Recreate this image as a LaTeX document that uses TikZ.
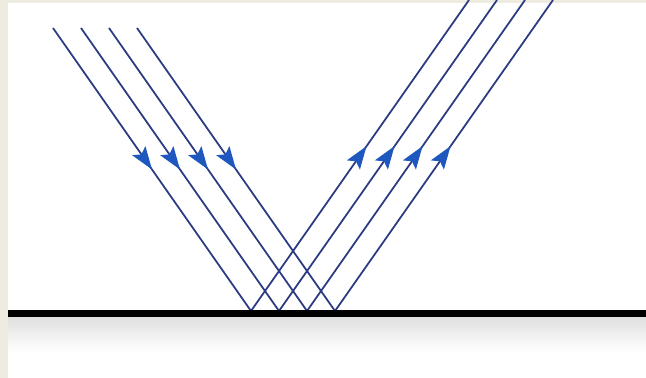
\documentclass[tikz,border=0pt]{standalone}
\usepackage{tikz}
\usetikzlibrary{arrows.meta, decorations.markings}

\definecolor{rayline}{RGB}{44,58,130}
\definecolor{rayhead}{RGB}{30,88,190}
\definecolor{frame}{RGB}{238,235,224}

\begin{document}
\begin{tikzpicture}[
    x=0.02cm, y=-0.02cm,
    ray/.style={draw=rayline, line width=1pt},
    arrowmid/.style={postaction={decorate, decoration={markings,
        mark=at position #1 with {\arrow{Stealth[length=13pt, width=9pt, inset=2.5pt, color=rayhead]}}}}},
    surface/.style={line width=4pt, black},
]
    \useasboundingbox (0,0) rectangle (646,378);

    % Frame
    \fill[frame] (0,0) rectangle (646,378);
    \fill[white] (8,3) rectangle (646,378);

    % Shadow below the mirror
    \shade[top color=gray!25, bottom color=white] (8,317) rectangle (646,352);

    % Rays
    \foreach \i/\hx in {1/251, 2/279, 3/307, 4/335} {
        \coordinate (in\i) at (\hx-198, 28);
        \coordinate (hit\i) at (\hx, 311);
        \coordinate (out\i) at (\hx+218, 0);
        \draw[ray, arrowmid=0.5] (in\i) -- (hit\i);
        \draw[ray, arrowmid=0.53] (hit\i) -- (out\i);
    }

    % Mirror
    \coordinate (mirrorL) at (8,313.5);
    \coordinate (mirrorR) at (646,313.5);
    \draw[surface] (mirrorL) -- (mirrorR);
\end{tikzpicture}
\end{document}
